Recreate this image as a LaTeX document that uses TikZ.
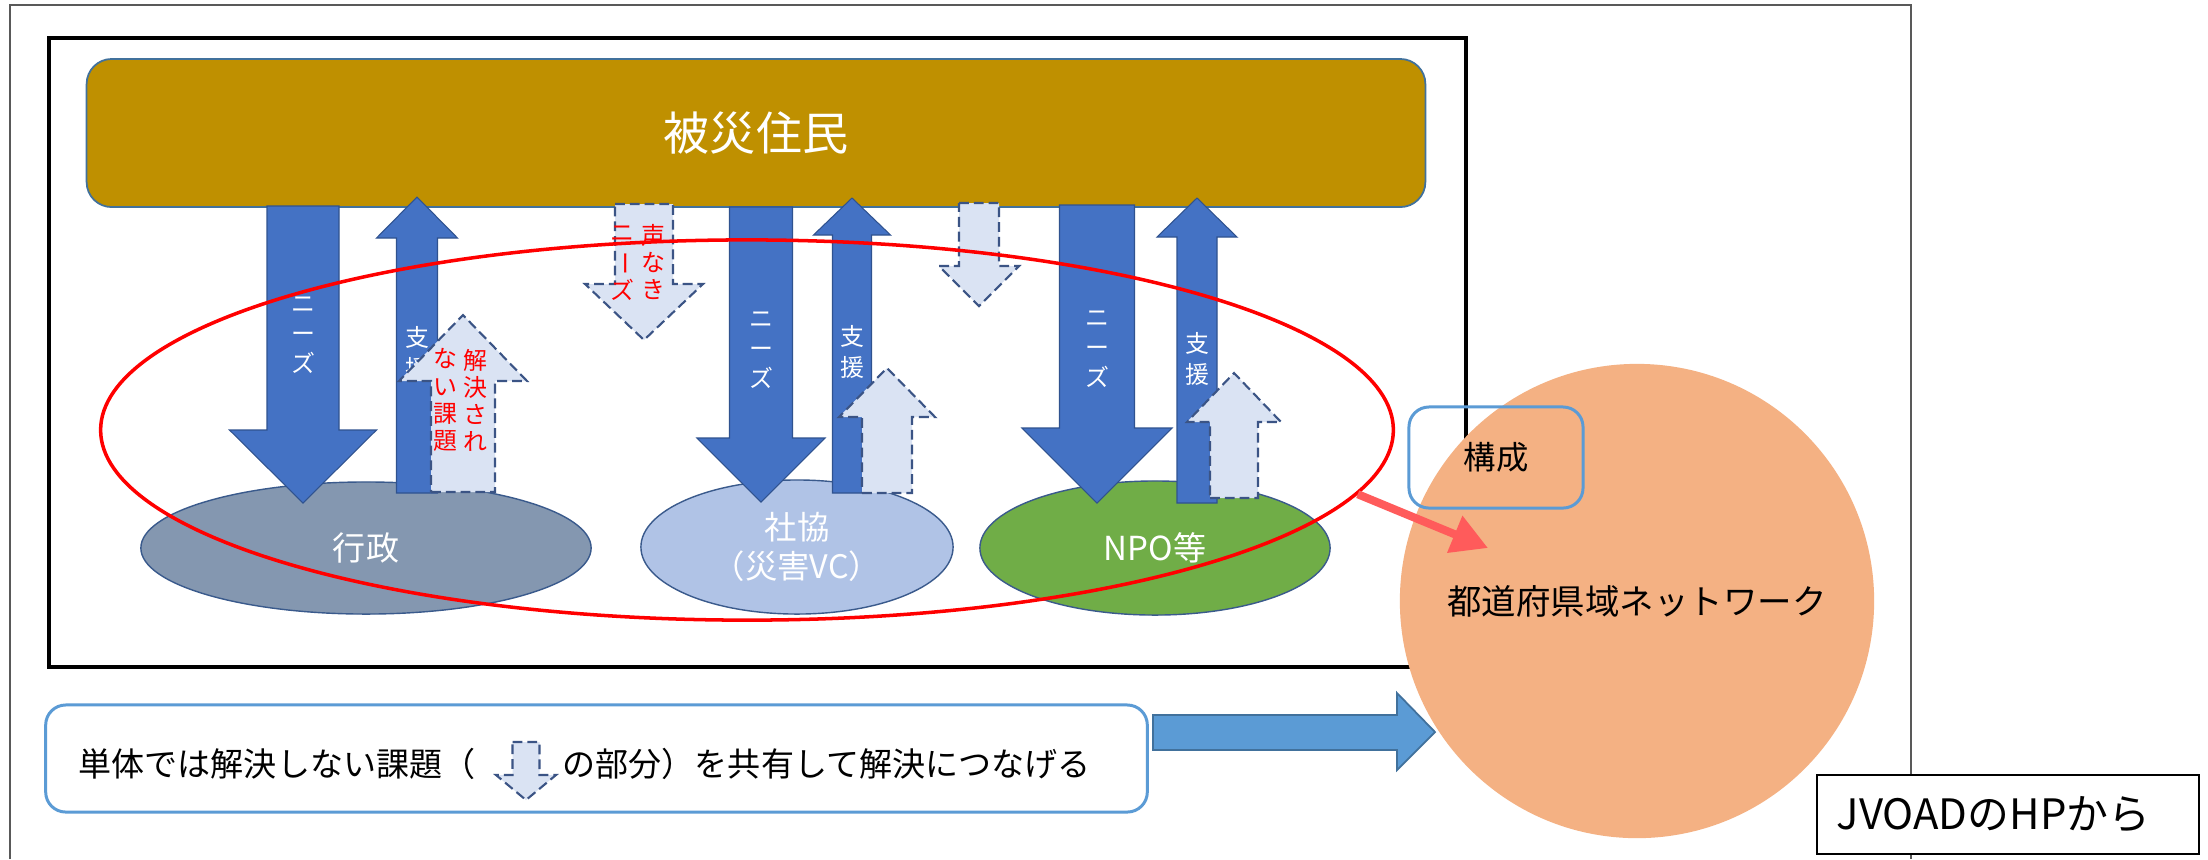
\documentclass[tikz,border=0pt]{standalone}
\usepackage{fontspec}
\setmainfont{Noto Sans CJK JP}
\usepackage{graphicx}
\usetikzlibrary{shapes.geometric,arrows.meta}

\definecolor{gold}{HTML}{BF9000}
\definecolor{goldedge}{HTML}{41719C}
\definecolor{gyosei}{HTML}{8497B0}
\definecolor{shakyo}{HTML}{B0C3E6}
\definecolor{npo}{HTML}{70AD47}
\definecolor{elledge}{HTML}{3A5A8C}
\definecolor{arrowblue}{HTML}{4472C4}
\definecolor{arrowedge}{HTML}{2F528F}
\definecolor{dashfill}{HTML}{DAE3F3}
\definecolor{dashedge}{HTML}{3B5485}
\definecolor{netorange}{HTML}{F4B183}
\definecolor{boxblue}{HTML}{5B9BD5}
\definecolor{bigedge}{HTML}{41719C}
\definecolor{redarrowc}{HTML}{FF5B5B}
\definecolor{framegray}{HTML}{595959}

\newcommand\bdown[7]{\path[#1] ({#2-#5},#3) -- ({#2+#5},#3) -- ({#2+#5},{#4-#7}) -- ({#2+#6},{#4-#7}) -- (#2,#4) -- ({#2-#6},{#4-#7}) -- ({#2-#5},{#4-#7}) -- cycle;}
\newcommand\bup[7]{\path[#1] ({#2-#5},#3) -- ({#2+#5},#3) -- ({#2+#5},{#4+#7}) -- ({#2+#6},{#4+#7}) -- (#2,#4) -- ({#2-#6},{#4+#7}) -- ({#2-#5},{#4+#7}) -- cycle;}

\tikzset{
  frameline/.style={draw=framegray, line width=0.5pt},
  innerframe/.style={draw=black, line width=1.1pt},
  needarrow/.style={fill=arrowblue, draw=arrowedge, line width=0.3pt},
  dasharrow/.style={fill=dashfill, draw=dashedge, line width=0.6pt, dash pattern=on 2.8pt off 1.4pt},
  orgell/.style={ellipse, draw=elledge, line width=0.4pt, inner sep=0, text=white, font=\fontsize{9.4}{11}\selectfont, align=center},
  vtext/.style={text=white, align=center, inner sep=0, font=\fontsize{6.8}{8.6}\selectfont},
  rtext/.style={text=red, align=center, inner sep=0, font=\fontsize{6.8}{7.7}\selectfont},
  bluebox/.style={draw=boxblue, line width=0.85pt, rounded corners=0.2cm, inner sep=0},
  bigarrow/.style={fill=boxblue, draw=bigedge, line width=0.5pt},
  redarrow/.style={draw=redarrowc, line width=2.3pt, -{Triangle[length=0.36cm,width=0.38cm]}},
}

\begin{document}
\begin{tikzpicture}[x=0.01cm,y=-0.01cm]
\fill[white] (0,0) rectangle (2208,859);
\useasboundingbox (0,0) rectangle (2208,859);

% frames
\draw[frameline] (10,859) -- (10,5) -- (1911,5) -- (1911,859);
\draw[innerframe] (49,38) rectangle (1466,667);

% residents
\node[fill=gold, draw=goldedge, line width=0.5pt, rounded corners=0.25cm,
      minimum width=13.38cm, minimum height=1.48cm, inner sep=0,
      text=white, font=\fontsize{13.1}{15}\selectfont] (res) at (756,133) {被災住民};

% organisations
\node[orgell, fill=gyosei, minimum width=4.5cm, minimum height=1.32cm] (gov) at (366,548) {行政};
\node[orgell, fill=shakyo, minimum width=3.12cm, minimum height=1.34cm, font=\fontsize{9.2}{11}\selectfont] (shk) at (797,547) {社協\\（災害VC）};
\node[orgell, fill=npo, minimum width=3.5cm, minimum height=1.34cm] (npo) at (1155,548) {NPO等};

% needs arrows
\bdown{needarrow}{303}{206}{503}{36}{73.5}{73}
\bdown{needarrow}{761}{207}{502}{31.5}{64}{64}
\bdown{needarrow}{1097}{205}{503}{37.5}{75}{75}
\node[vtext] (n1) at (303,335) {ニ\\ー\\ズ};
\node[vtext] (n2) at (761,350) {ニ\\ー\\ズ};
\node[vtext] (n3) at (1097,349) {ニ\\ー\\ズ};

% support arrows
\bup{needarrow}{417}{493}{197}{20.5}{40.5}{41}
\bup{needarrow}{852}{493}{198}{19.5}{38.5}{37}
\bup{needarrow}{1197}{503}{198}{20}{40}{39}
\node[vtext] (s1) at (417,353) {支\\援};
\node[vtext] (s2) at (852,352) {支\\援};
\node[vtext] (s3) at (1197,359) {支\\援};

% dashed arrows
\bup{dasharrow}{463}{492}{315}{32}{64}{66}
\bdown{dasharrow}{644}{204}{340}{29}{59}{56}
\bup{dasharrow}{887}{493}{368}{25}{48}{49}
\bdown{dasharrow}{979}{203}{306}{20}{40}{40}
\bup{dasharrow}{1234}{498}{373}{24}{47}{49}
\node[rtext] (ra) at (475,400) {解\\決\\さ\\れ};
\node[rtext] (rb) at (445,400) {な\\い\\課\\題};
\node[rtext] (rc) at (653,262) {声\\な\\き};
\node[rtext] (rd) at (622,263) {ニ\\\rotatebox[origin=c]{-90}{ー}\\ズ};

% red group ellipse
\node[ellipse, draw=red, line width=1pt, minimum width=12.92cm, minimum height=3.8cm, inner sep=0] (grp) at (747,430) {};

% bottom note
\node[bluebox, minimum width=11.01cm, minimum height=1.07cm] (note) at (596.5,758.5) {};
\node[anchor=west, inner sep=0, font=\fontsize{9.4}{11}\selectfont] (nt1) at (78,764) {単体では解決しない課題（};
\bdown{dasharrow}{526}{742}{800}{13.5}{30}{25}
\node[anchor=west, inner sep=0, font=\fontsize{9.4}{11}\selectfont] (nt2) at (562,764) {の部分）を共有して解決につなげる};

% big arrow
\path[bigarrow] (1153,715) -- (1397,715) -- (1397,693) -- (1435,732) -- (1397,770) -- (1397,750) -- (1153,750) -- cycle;

% network circle
\node[circle, fill=netorange, minimum size=4.74cm, inner sep=0, font=\fontsize{9.8}{12}\selectfont] (net) at (1637,601) {都道府県域ネットワーク};

% composition box
\node[bluebox, minimum width=1.74cm, minimum height=1.01cm, font=\fontsize{9.2}{11}\selectfont] (comp) at (1496,457.5) {構成};

% red arrow
\coordinate (raend) at (1488,548);
\draw[redarrow] (grp.-6.1) -- (raend);

% source box
\node[draw=black, line width=0.6pt, fill=white, inner xsep=0.2cm, inner ysep=0, text width=3.42cm, align=left,
      minimum height=0.79cm, font=\fontsize{11.9}{14}\selectfont] (src) at (2008,814.5) {JVOADのHPから};
\end{tikzpicture}
\end{document}
